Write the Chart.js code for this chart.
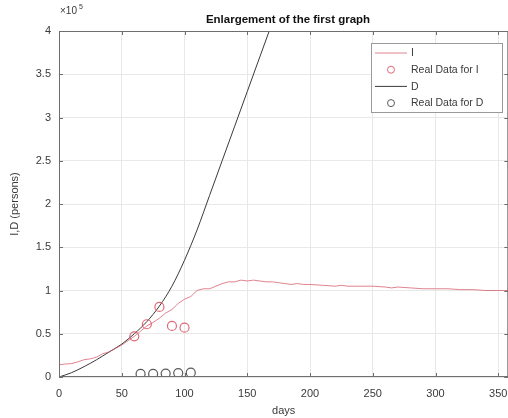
<!DOCTYPE html>
<html>
<head>
<meta charset="utf-8">
<script src="https://cdn.jsdelivr.net/npm/chart.js@4"></script>
<style>
  html, body { margin: 0; padding: 0; background: #fff; overflow: hidden; }
  #wrap { width: 508px; height: 418px; overflow: hidden; }
</style>
</head>
<body>
<div id="wrap"><canvas id="myChart" width="514" height="418"></canvas></div>
<script>
// model curve for I (values in persons)
const iDays = [0, 5, 10, 15, 20, 25, 30, 35, 40, 45, 50, 55, 60, 65, 70, 75, 80, 85, 90, 95, 100,
    105, 110, 115, 120, 125, 130, 135, 140, 145, 150, 155, 160, 165, 170, 175, 180, 185, 190, 195,
    200, 210, 220, 225, 230, 240, 250, 260, 265, 270, 280, 290, 300, 310, 320, 330, 340, 350, 360];
const iVals = [14000, 15000, 15500, 17500, 20000, 21000, 23000, 27000, 29000, 33000, 37000, 42000,
    47000, 53000, 59000, 63000, 68000, 74000, 78000, 85000, 90000, 93000, 100000, 102000, 102000,
    105000, 108000, 110000, 110000, 112000, 111000, 112000, 111000, 110000, 110000, 109000, 108000,
    107000, 108000, 107000, 107000, 106000, 105000, 106000, 105000, 105000, 105000, 104000, 103000,
    104000, 103000, 102000, 102000, 102000, 101000, 101000, 100000, 100000, 100000];

// model curve for D
const dDays = [0, 10, 20, 30, 40, 50, 60, 70, 80, 90, 100, 110, 120, 130, 140, 150, 160, 170];
const dVals = [0, 5000, 12000, 20000, 29000, 38000, 50000, 64000, 82000, 105000, 135000, 170000,
    210000, 250000, 290000, 330000, 370000, 410000];

// observed data
const iRealDays = [60, 70, 80, 90, 100];
const iRealVals = [47000, 61000, 81000, 59000, 57000];
const dRealDays = [65, 75, 85, 95, 105];
const dRealVals = [3500, 3500, 4000, 4500, 5000];

const xTicks = [0, 50, 100, 150, 200, 250, 300, 350];
const yTicks = [0, 0.5, 1, 1.5, 2, 2.5, 3, 3.5, 4];

const pts = (xs, ys) => xs.map((x, k) => ({ x: x, y: ys[k] }));

const axisGray = '#6e6e6e';
const textGray = '#3a3a3a';
const fontFam = '"Liberation Sans", Arial, sans-serif';

const matlabFrame = {
    id: 'matlabFrame',
    afterDraw(chart) {
        const ctx = chart.ctx;
        const a = chart.chartArea;
        const xs = chart.scales.x, ys = chart.scales.y;
        ctx.save();
        ctx.strokeStyle = axisGray;
        ctx.lineWidth = 1;
        ctx.strokeRect(a.left + 0.5, a.top + 0.5, a.right - a.left - 1, a.bottom - a.top - 1);
        // inward tick marks
        ctx.beginPath();
        xs.ticks.forEach(t => {
            const px = Math.round(xs.getPixelForValue(t.value)) + 0.5;
            ctx.moveTo(px, a.bottom); ctx.lineTo(px, a.bottom - 4);
            ctx.moveTo(px, a.top); ctx.lineTo(px, a.top + 4);
        });
        ys.ticks.forEach(t => {
            const py = Math.round(ys.getPixelForValue(t.value)) + 0.5;
            ctx.moveTo(a.left, py); ctx.lineTo(a.left + 4, py);
            ctx.moveTo(a.right, py); ctx.lineTo(a.right - 4, py);
        });
        ctx.stroke();

        // exponent label
        ctx.fillStyle = textGray;
        ctx.textBaseline = 'alphabetic';
        ctx.textAlign = 'left';
        ctx.font = '10px ' + fontFam;
        ctx.fillText('\u00d710', a.left + 1, 14);
        ctx.font = '7px ' + fontFam;
        ctx.fillText('5', a.left + 20, 9);

        // title
        ctx.fillStyle = '#111';
        ctx.font = 'bold 11.5px ' + fontFam;
        ctx.textAlign = 'center';
        ctx.textBaseline = 'middle';
        ctx.fillText('Enlargement of the first graph', 288, 20);

        // legend box inside the axes
        const bx = 371, by = 43, bw = 131, bh = 69;
        ctx.fillStyle = '#fff';
        ctx.fillRect(bx, by, bw, bh);
        ctx.strokeStyle = '#9a9a9a';
        ctx.strokeRect(bx + 0.5, by + 0.5, bw, bh);
        ctx.font = '10.5px ' + fontFam;
        ctx.textAlign = 'left';
        chart.data.datasets.forEach((ds, k) => {
            const cy = by + 10 + k * 16.7;
            ctx.strokeStyle = ds.borderColor;
            ctx.lineWidth = 1;
            ctx.beginPath();
            if (ds.showLine) {
                ctx.moveTo(bx + 4, cy); ctx.lineTo(bx + 36, cy);
            } else {
                ctx.arc(bx + 20, cy, 3.5, 0, Math.PI * 2);
            }
            ctx.stroke();
            ctx.fillStyle = textGray;
            ctx.fillText(ds.label, bx + 40, cy + 0.5);
        });
        ctx.restore();
    }
};

const config = {
    type: 'scatter',
    data: {
        datasets: [
            {
                label: 'I',
                data: pts(iDays, iVals),
                showLine: true,
                borderColor: 'rgba(214,90,105,0.75)',
                borderWidth: 1,
                pointRadius: 0,
                tension: 0
            },
            {
                label: 'Real Data for I',
                data: pts(iRealDays, iRealVals),
                showLine: false,
                borderColor: 'rgba(220,80,95,0.85)',
                backgroundColor: 'rgba(0,0,0,0)',
                borderWidth: 1.2,
                pointRadius: 4.5
            },
            {
                label: 'D',
                data: pts(dDays, dVals),
                showLine: true,
                borderColor: '#3a3a3a',
                borderWidth: 1,
                pointRadius: 0,
                cubicInterpolationMode: 'monotone'
            },
            {
                label: 'Real Data for D',
                data: pts(dRealDays, dRealVals),
                showLine: false,
                borderColor: '#5a5a5a',
                backgroundColor: 'rgba(0,0,0,0)',
                borderWidth: 1.2,
                pointRadius: 4.5
            }
        ]
    },
    options: {
        responsive: false,
        animation: false,
        layout: { padding: { top: 31, right: 0, left: 0, bottom: 0 } },
        plugins: {
            legend: { display: false },
            title: { display: false },
            tooltip: { enabled: false }
        },
        scales: {
            x: {
                type: 'linear',
                min: 0,
                max: 358,
                afterBuildTicks: (scale) => {
                    scale.ticks = xTicks.map(v => ({ value: v }));
                },
                afterFit: (scale) => {
                    scale.height = 41;
                    scale.paddingLeft = 0;
                    scale.paddingRight = 0;
                },
                grid: { color: '#e8e8e8', drawTicks: false },
                border: { display: false },
                ticks: {
                    color: textGray,
                    padding: 10,
                    maxRotation: 0,
                    font: { size: 11, family: fontFam }
                },
                title: {
                    display: true,
                    text: 'days',
                    color: textGray,
                    padding: { top: 0, bottom: 0 },
                    font: { size: 11, family: fontFam }
                }
            },
            y: {
                type: 'linear',
                min: 0,
                max: 400000,
                afterBuildTicks: (scale) => {
                    scale.ticks = yTicks.map(v => ({ value: v * 100000 }));
                },
                afterFit: (scale) => { scale.width = 59; },
                grid: { color: '#e8e8e8', drawTicks: false },
                border: { display: false },
                ticks: {
                    color: textGray,
                    padding: 8,
                    callback: (v) => String(v / 100000),
                    font: { size: 11, family: fontFam }
                },
                title: {
                    display: true,
                    text: 'I,D (persons)',
                    color: textGray,
                    padding: { top: 8, bottom: 0 },
                    font: { size: 11, family: fontFam }
                }
            }
        }
    },
    plugins: [matlabFrame]
};

const myChart = new Chart(
    document.getElementById('myChart'),
    config
);
</script>
</body>
</html>
